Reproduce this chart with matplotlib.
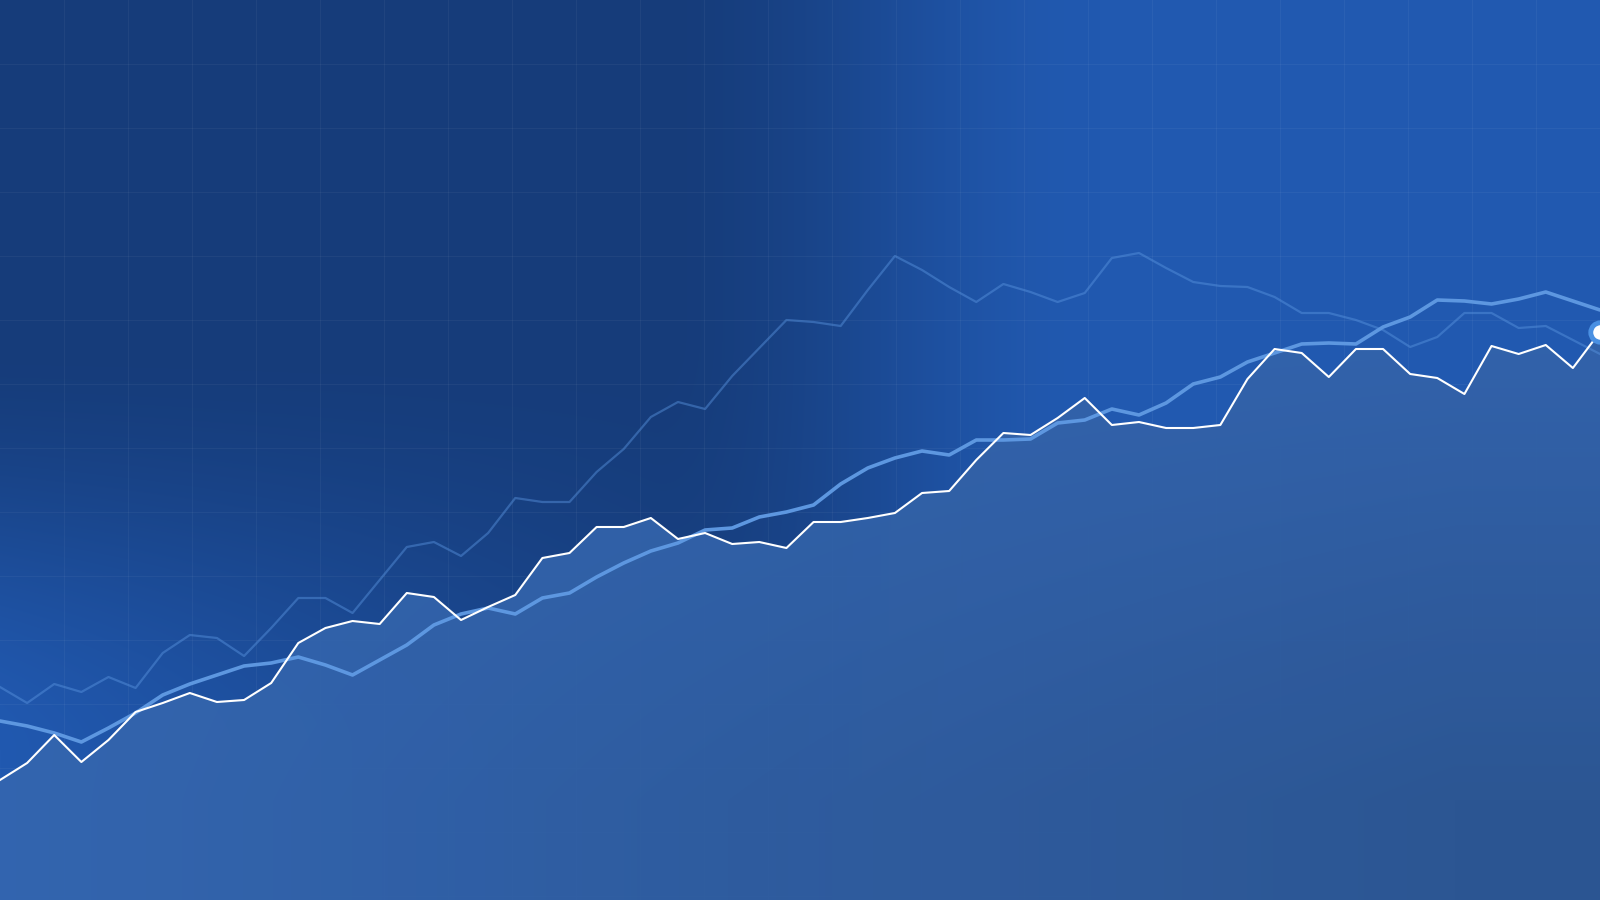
import numpy as np
import matplotlib
matplotlib.use("Agg")
import matplotlib.pyplot as plt

W, H = 1600, 900

# main series: white line with the filled area under it
main = [120, 137, 165, 138, 160, 188, 197, 207, 198, 200,
        217, 257, 272, 279, 276, 307, 303, 280, 293, 305,
        342, 347, 373, 373, 382, 361, 367, 356, 358, 352,
        378, 378, 382, 387, 407, 409, 440, 467, 465, 482,
        502, 475, 478, 472, 472, 475, 521, 551, 547, 523,
        551, 551, 526, 522, 506, 554, 546, 555, 532, 568]
# smoother trend line (thick light blue)
trend = [179, 174, 167, 158, 172, 187, 205, 216, 225, 234,
         237, 243, 235, 225, 240, 255, 275, 286, 292, 286,
         302, 307, 323, 337, 349, 357, 370, 372, 383, 388,
         395, 416, 432, 442, 449, 445, 460, 460, 461, 477,
         480, 491, 485, 497, 516, 523, 538, 547, 556, 557,
         556, 573, 583, 600, 599, 596, 601, 608, 599, 590]
# upper series (faint line)
upper = [213, 197, 216, 208, 223, 212, 247, 265, 262, 244,
         272, 302, 302, 287, 320, 353, 358, 344, 367, 402,
         398, 398, 428, 451, 483, 498, 491, 524, 552, 580,
         578, 574, 610, 644, 630, 613, 598, 616, 608, 598,
         607, 642, 647, 632, 618, 614, 613, 603, 587, 587,
         580, 570, 553, 563, 587, 587, 572, 574, 560, 546]
x = np.arange(len(main))


def smoothstep(a):
    a = np.clip(a, 0, 1)
    return a * a * (3 - 2 * a)


fig = plt.figure(figsize=(16, 9), dpi=100)

# ---- background gradient (dark navy top-left, brighter right / lower-left)
bg = fig.add_axes([0, 0, 1, 1], zorder=0)
yy, xx = np.mgrid[0:H, 0:W]
g1 = smoothstep((xx - 650) / 450)
g2 = smoothstep((yy - 330) / 420) * np.clip(1 - xx / 850, 0, 1)
w = np.clip(g1 + g2, 0, 1)[..., None]
dark = np.array([22, 60, 122]) / 255
bright = np.array([33, 89, 176]) / 255
bg.imshow(dark + (bright - dark) * w, extent=(0, W, H, 0), aspect="auto")
bg.set_xlim(0, W); bg.set_ylim(H, 0)
# faint grid, drawn under the area
for gx in range(64, W, 64):
    bg.axvline(gx, color="white", alpha=0.045, lw=0.8)
for gy in range(64, H, 64):
    bg.axhline(gy, color="white", alpha=0.045, lw=0.8)
bg.axis("off")

# ---- data axes
ax = fig.add_axes([0, 0, 1, 1], zorder=1)
ax.patch.set_alpha(0)
area = ax.fill_between(x, main, 0, color="none", lw=0)

# gradient fill clipped to the area
u = xx / W
t = (np.clip(u * 1.1, 0, 1) * np.clip((yy - 250) / 550, 0, 1))[..., None]
A = np.array([52, 102, 176]) / 255
B = np.array([45, 86, 146]) / 255
im = ax.imshow(A + (B - A) * t, extent=(0, len(x) - 1, 0, H),
               aspect="auto", zorder=1, alpha=0.96)
im.set_clip_path(area.get_paths()[0], transform=ax.transData)

ax.plot(x, upper, color="#5a95e0", lw=1.6, alpha=0.45, zorder=3)
ax.plot(x, trend, color="#5d97e0", lw=2.6, zorder=4, solid_capstyle="round")
ax.plot(x, main, color="white", lw=1.5, zorder=5)
ax.plot(x[-1], main[-1], "o", ms=14, mfc="white", mec="#4a90e2", mew=3.5,
        zorder=6)
ax.set_xlim(0, len(x) - 1)
ax.set_ylim(0, H)
ax.axis("off")

fig.savefig("out.png", dpi=100)
